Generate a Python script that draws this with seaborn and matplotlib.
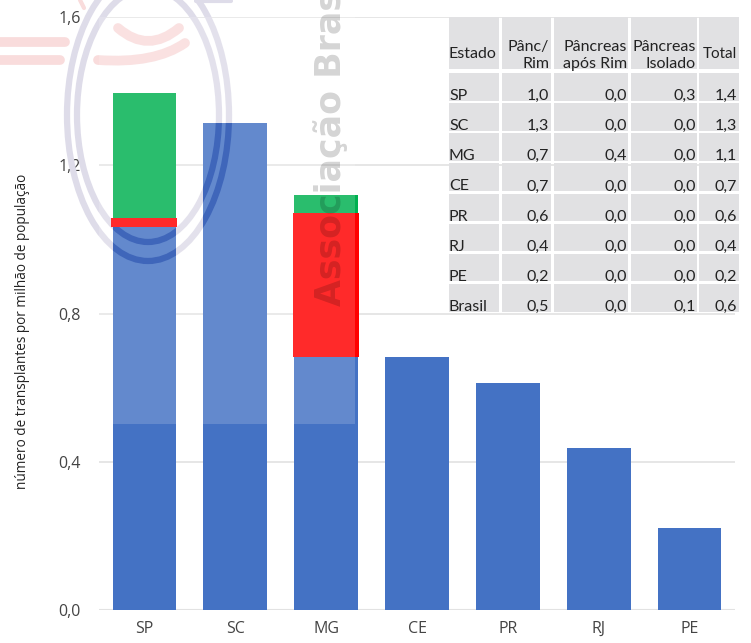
import matplotlib
matplotlib.use('Agg')
import matplotlib.pyplot as plt
from matplotlib.patches import Rectangle, Ellipse, PathPatch
from matplotlib.path import Path
from matplotlib.transforms import Affine2D
import seaborn as sns
import numpy as np

estados = ['SP', 'SC', 'MG', 'CE', 'PR', 'RJ', 'PE']
panc_rim = [1.033, 1.313, 0.683, 0.683, 0.612, 0.436, 0.221]
panc_apos_rim = [0.025, 0.0, 0.388, 0.0, 0.0, 0.0, 0.0]
panc_isolado = [0.337, 0.0, 0.049, 0.0, 0.0, 0.0, 0.0]
yticks = [0.0, 0.4, 0.8, 1.2, 1.6]

tab_estado = ['SP', 'SC', 'MG', 'CE', 'PR', 'RJ', 'PE', 'Brasil']
tab_panc_rim = [1.0, 1.3, 0.7, 0.7, 0.6, 0.4, 0.2, 0.5]
tab_apos_rim = [0.0, 0.0, 0.4, 0.0, 0.0, 0.0, 0.0, 0.0]
tab_isolado = [0.3, 0.0, 0.0, 0.0, 0.0, 0.0, 0.0, 0.1]
tab_total = [1.4, 1.3, 1.1, 0.7, 0.6, 0.4, 0.2, 0.6]
tab_header = ['Estado', 'Pânc/\nRim', 'Pâncreas\napós Rim', 'Pâncreas\nIsolado', 'Total']

sns.set_theme(style='white')
plt.rcParams['font.family'] = ['Open Sans', 'DejaVu Sans']

W, H = 751, 643
fig = plt.figure(figsize=(W / 100, H / 100), dpi=100)
ax = fig.add_axes([99 / W, 1 - 610 / H, 636 / W, 593 / H])

# coordenadas em pixels da imagem (marca d'agua e tabela)
px = Affine2D().scale(1, -1).translate(0, H)

# barras empilhadas
pr = np.array(panc_rim)
apos = np.array(panc_apos_rim)
iso = np.array(panc_isolado)

sns.barplot(x=estados, y=pr, color='#4472C4', saturation=1, width=0.7, linewidth=0, ax=ax, zorder=2)
sns.barplot(x=estados, y=iso, bottom=pr + apos, color='#00B050', saturation=1, width=0.7, linewidth=0, ax=ax, zorder=2.1)
sns.barplot(x=estados, y=apos, bottom=pr, color='#FF0000', saturation=1, width=0.725, linewidth=0, ax=ax, zorder=2.2)
blue_bars = list(ax.containers[0])

ax.set_xlim(-0.5, 6.5)
ax.set_ylim(0, 1.6)
ax.set_yticks(yticks)
ax.set_yticklabels([f'{v:.1f}'.replace('.', ',') for v in yticks])
ax.tick_params(axis='both', length=0, labelcolor='#444444')
ax.tick_params(axis='y', labelsize=11.5, pad=13)
ax.tick_params(axis='x', labelsize=11.5, pad=8)
ax.set_xlabel('')
ax.set_ylabel('número de transplantes por milhão de população', fontsize=9.8, color='#222222')
ax.yaxis.set_label_coords((30 - 99) / 636, 0.47)
ax.grid(axis='y', color='#E2E2E2', lw=1.2)
ax.set_axisbelow(True)
sns.despine(ax=ax, left=True, bottom=True, top=True, right=True)
ax.axhline(0, color='#E2E2E2', lw=1.5, zorder=1.5)

# marca d'agua: faixas e arcos rosa
pink = '#F9DCDC'
for x0, x1, y0 in [(-5, 65, 42), (-5, 60, 60)]:
    ax.plot([x0, x1], [y0, y0], color=pink, lw=7, solid_capstyle='round',
            transform=px, clip_on=False, zorder=1)
ax.plot([80, 84], [0, 8], color=pink, lw=3, transform=px, clip_on=False, zorder=1)
arcs = [[(118, 28), (148, 54), (179, 28)], [(98, 60), (155, 64), (185, 43)]]
for pts in arcs:
    ax.add_patch(PathPatch(Path(pts, [Path.MOVETO, Path.CURVE3, Path.CURVE3]), fill=False,
                           ec=pink, lw=7, capstyle='round', transform=px, clip_on=False, zorder=1))

# aneis
ring_c = (148, 115)
rings = [(162, 292), (142, 254)]
for w, h in rings:
    ax.add_patch(Ellipse(ring_c, w, h, fill=False, ec='#DEDCE9', lw=4.5,
                         transform=px, clip_on=False, zorder=1))
ax.plot([196, 231], [1, 1], color='#DEDCE9', lw=3, transform=px, clip_on=False, zorder=1)

# veu branco sobre as barras
ax.add_patch(Rectangle((99, 17), 256, 407, fc='white', ec='none', alpha=0.17,
                       transform=px, clip_on=False, zorder=3))

# aneis vistos por cima das barras azuis
for bar in blue_bars[:2]:
    for w, h in rings:
        e = Ellipse(ring_c, w, h, fill=False, ec='#3F66BA', lw=4.5, transform=px, zorder=4)
        ax.add_patch(e)
        e.set_clip_path(bar)

ax.text(331, 306, 'Associação Bras', rotation=90, ha='center', va='bottom',
        fontsize=25, fontweight='bold', color='black', alpha=0.17,
        family=['DejaVu Sans'], transform=px, clip_on=False, zorder=5)

# tabela
cols = [(449, 499), (502, 551), (554, 628), (631, 697), (699, 739)]
text_right = [None, 549, 627, 696, 737]
cell = '#E1E1E3'
txt = '#222222'
lato = ['Lato', 'DejaVu Sans']


def tab_text(x, y, s, ha='right', va='baseline', size=11.5):
    ax.text(x, y, s, ha=ha, va=va, fontsize=size, color=txt, family=lato, linespacing=1.3,
            transform=px, clip_on=False, zorder=7)


for (x0, x1), head, xr in zip(cols, tab_header, text_right):
    ax.add_patch(Rectangle((x0, 17), x1 - x0, 52, fc=cell, ec='none', transform=px,
                           clip_on=False, zorder=6))
    if xr is None:
        tab_text(x0, 58, head, ha='left')
    elif '\n' in head:
        tab_text(xr, 71, head, va='bottom')
    else:
        tab_text(xr, 58, head, size=11)

for i, est in enumerate(tab_estado):
    top = 73 + 30.15 * i
    for x0, x1 in cols:
        ax.add_patch(Rectangle((x0, top), x1 - x0, 27.5, fc=cell, ec='none', transform=px,
                               clip_on=False, zorder=6))
    tab_text(449, top + 27, est, ha='left')
    vals = [tab_panc_rim[i], tab_apos_rim[i], tab_isolado[i], tab_total[i]]
    for v, xr in zip(vals, text_right[1:]):
        tab_text(xr, top + 27, f'{v:.1f}'.replace('.', ','))

fig.savefig('out.png', dpi=100)
